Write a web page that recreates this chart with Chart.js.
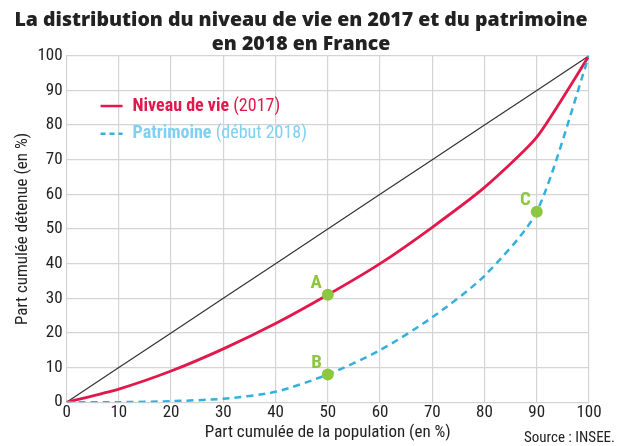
<!DOCTYPE html>
<html lang="fr">
<head>
    <title>Distribution niveau de vie et patrimoine</title>
    <meta charset="UTF-8">
    <script src="https://cdn.jsdelivr.net/npm/chart.js@4/dist/chart.umd.min.js"></script>
    <style>
        body {margin:0;padding:0;background:#fff;}
        #wrap {width:623px;height:446px;}
    </style>
</head>
<body>
<div id="wrap"><canvas id="lorenz"></canvas></div>
<script>
    // part cumulée de la population (%)
    const population = [0, 10, 20, 30, 40, 50, 60, 70, 80, 90, 100];
    const niveauDeVie = [0, 3.8, 9, 15.4, 22.7, 31, 40, 50.5, 62, 76.5, 100];
    const patrimoine = [0, 0, 0.3, 1, 3, 8, 15, 24.5, 36.5, 55, 100];
    const egalite = [0, 10, 20, 30, 40, 50, 60, 70, 80, 90, 100];
    const pointLabels = ['A', 'B', 'C'];
    const pointX = [50, 50, 90];
    const pointY = [31, 8, 55];

    const FONT = '"Liberation Sans Narrow", "Roboto Condensed", Arial, sans-serif';
    const RED = '#e2174b';
    const BLUE = '#33b0dd';
    const GREEN = '#8dc63f';

    const toXY = (ys) => ys.map((y, i) => ({x: population[i], y: y}));

    const annotations = {
        id: 'annotations',
        afterDatasetsDraw(chart) {
            const c = chart.ctx, xs = chart.scales.x, ys = chart.scales.y;
            c.save();
            // labels A, B, C
            c.font = 'bold 19px ' + FONT;
            c.fillStyle = GREEN;
            c.textAlign = 'right';
            c.textBaseline = 'bottom';
            pointLabels.forEach((t, i) => {
                c.fillText(t, xs.getPixelForValue(pointX[i]) - 6, ys.getPixelForValue(pointY[i]) - 2);
            });
            // legend
            const lx = xs.getPixelForValue(6.5), ly1 = ys.getPixelForValue(85.5), ly2 = ys.getPixelForValue(77.5);
            c.textAlign = 'left';
            c.textBaseline = 'middle';
            c.lineWidth = 2.5;
            c.strokeStyle = RED;
            c.beginPath(); c.moveTo(lx, ly1); c.lineTo(lx + 22, ly1); c.stroke();
            c.strokeStyle = BLUE;
            c.setLineDash([5, 4]);
            c.beginPath(); c.moveTo(lx, ly2); c.lineTo(lx + 22, ly2); c.stroke();
            c.setLineDash([]);
            let tx = lx + 32;
            c.font = 'bold 18px ' + FONT;
            c.fillStyle = RED;
            c.fillText('Niveau de vie', tx, ly1);
            let w = c.measureText('Niveau de vie ').width;
            c.font = '18px ' + FONT;
            c.fillText('(2017)', tx + w, ly1);
            c.font = 'bold 18px ' + FONT;
            c.fillStyle = '#7fd0f2';
            c.fillText('Patrimoine', tx, ly2);
            w = c.measureText('Patrimoine ').width;
            c.font = '18px ' + FONT;
            c.fillText('(début 2018)', tx + w, ly2);
            // source
            c.font = '15px ' + FONT;
            c.fillStyle = '#222';
            c.textAlign = 'right';
            c.textBaseline = 'alphabetic';
            c.fillText('Source : INSEE.', chart.width - 8, chart.height - 4);
            c.restore();
        }
    };

    new Chart(document.getElementById('lorenz'), {
        type: 'line',
        data: {
            datasets: [
                {
                    label: 'Égalité',
                    data: toXY(egalite),
                    borderColor: '#333',
                    borderWidth: 1.2,
                    pointRadius: 0,
                    order: 3
                },
                {
                    label: 'Niveau de vie (2017)',
                    data: toXY(niveauDeVie),
                    borderColor: RED,
                    borderWidth: 2.8,
                    pointRadius: 0,
                    tension: 0.2,
                    order: 2
                },
                {
                    label: 'Patrimoine (début 2018)',
                    data: toXY(patrimoine),
                    borderColor: BLUE,
                    borderWidth: 2.5,
                    borderDash: [7, 5],
                    pointRadius: 0,
                    tension: 0.25,
                    order: 1
                },
                {
                    label: 'points',
                    type: 'scatter',
                    data: pointX.map((x, i) => ({x: x, y: pointY[i]})),
                    backgroundColor: GREEN,
                    borderColor: GREEN,
                    borderWidth: 0,
                    pointRadius: 6,
                    order: 0
                }
            ]
        },
        options: {
            responsive: true,
            maintainAspectRatio: false,
            animation: false,
            layout: {padding: {left: 13, right: 34, top: 9, bottom: 3}},
            plugins: {
                legend: {display: false},
                tooltip: {enabled: false},
                title: {
                    display: true,
                    text: ['La distribution du niveau de vie en 2017 et du patrimoine', 'en 2018 en France'],
                    color: '#222',
                    font: {family: '"Open Sans", sans-serif', size: 19.5, weight: 800, lineHeight: 1.2},
                    padding: {top: 0, bottom: 0}
                }
            },
            scales: {
                x: {
                    type: 'linear',
                    min: 0,
                    max: 100,
                    ticks: {stepSize: 10, color: '#222', font: {family: FONT, size: 17}, padding: 0},
                    grid: {color: '#d4d4d4', lineWidth: 1.2, drawTicks: false},
                    border: {color: '#d4d4d4'},
                    title: {display: true, text: 'Part cumulée de la population (en %)', color: '#222',
                        font: {family: FONT, size: 17}, padding: {top: 0, bottom: 0}}
                },
                y: {
                    min: 0,
                    max: 100,
                    ticks: {stepSize: 10, color: '#222', font: {family: FONT, size: 17}, padding: 4},
                    grid: {color: '#d4d4d4', lineWidth: 1.2, drawTicks: false},
                    border: {color: '#d4d4d4'},
                    title: {display: true, text: 'Part cumulée détenue (en %)', color: '#222',
                        font: {family: FONT, size: 17}, padding: {top: 0, bottom: 0}}
                }
            }
        },
        plugins: [annotations]
    });
</script>
</body>
</html>
